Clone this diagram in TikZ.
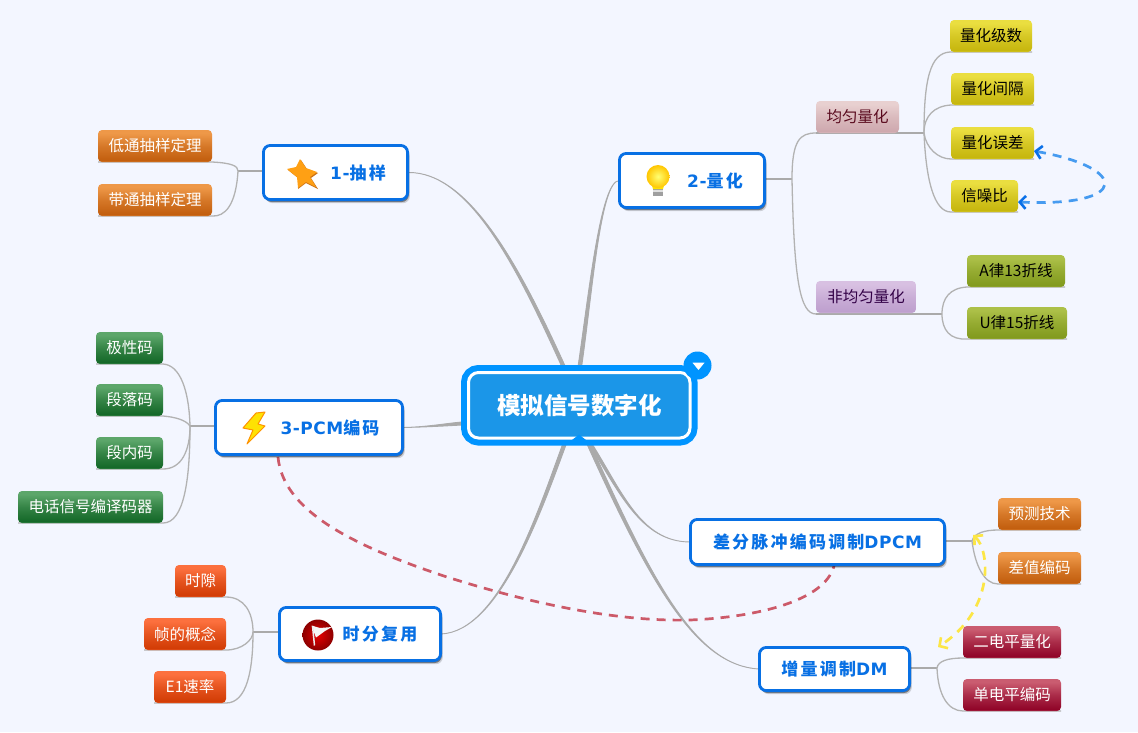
\documentclass[tikz,border=0pt]{standalone}
\usepackage{fontspec}
\setmainfont{Noto Sans CJK SC}
\newfontfamily\bluefont[LetterSpace=13]{Noto Sans CJK SC}
\newfontfamily\latfont[LetterSpace=3]{DejaVu Sans}
\usetikzlibrary{calc,backgrounds,shadows,arrows.meta}
\definecolor{bgcol}{RGB}{243,246,255}
\definecolor{ringblue}{RGB}{0,148,255}
\definecolor{rootfill}{RGB}{27,150,232}
\definecolor{mainblue}{RGB}{8,112,228}
\definecolor{branchcol}{RGB}{170,170,170}
\definecolor{linkcol}{RGB}{178,178,178}
\definecolor{relblue}{RGB}{70,155,240}
\definecolor{relbluetip}{RGB}{10,112,232}
\definecolor{relred}{RGB}{204,90,105}
\definecolor{relyel}{RGB}{252,230,70}
\definecolor{staro}{RGB}{255,160,20}
\definecolor{stard}{RGB}{205,115,20}
\newcommand\mkleafshade[3]{%
  \definecolor{#1T}{RGB}{#2}\definecolor{#1B}{RGB}{#3}%
  \colorlet{#1M}{#1T!45!#1B}\colorlet{#1E}{#1T!60!#1B}%
  \pgfdeclareverticalshading{#1}{100bp}{color(0bp)=(#1E);color(25bp)=(#1E);color(27.5bp)=(#1B);color(50bp)=(#1M);color(70bp)=(#1T);color(75bp)=(#1T);color(100bp)=(#1T)}}
\mkleafshade{yl}{234,222,64}{198,182,14}
\mkleafshade{pk}{232,208,208}{206,168,174}
\mkleafshade{pu}{216,192,226}{190,160,206}
\mkleafshade{ol}{172,192,72}{130,154,30}
\mkleafshade{og}{238,152,72}{194,94,14}
\mkleafshade{gn}{92,166,106}{20,104,40}
\mkleafshade{ro}{252,112,62}{210,60,5}
\mkleafshade{dr}{202,92,112}{144,4,40}
\tikzset{
  leafbox/.style={shade,shading=#1,rounded corners=4pt,inner sep=0pt,outer sep=0pt,font=\fontsize{15.5}{18}\selectfont},
  mainbox/.style={draw=mainblue,line width=2.8pt,fill=white,rounded corners=7pt,inner sep=0pt,outer sep=0pt,
    text=mainblue,font=\bluefont\bfseries\fontsize{17}{20}\selectfont,
    drop shadow={shadow xshift=2.2pt,shadow yshift=-3.6pt,fill=black,opacity=0.16},
    drop shadow={shadow xshift=1.2pt,shadow yshift=-2.4pt,fill=black,opacity=0.42}},
  rootbox/.style={preaction={draw=ringblue,line width=15pt},draw=white,line width=3pt,fill=rootfill,
    rounded corners=10pt,inner sep=0pt,outer sep=0pt,text=white,font=\bfseries\fontsize{23.5}{28}\selectfont},
  branch/.style={draw=branchcol,fill=branchcol,line width=0.9pt,line join=round},
  sublink/.style={draw=linkcol,line width=1.3pt},
  stem/.style={draw=branchcol,line width=2pt},
  reldash/.style={dash pattern=on 9pt off 7pt,line width=2.7pt},
  yeltip/.tip={Straight Barb[color=relyel,length=6pt,width=13pt,line width=2.6pt]},
  bluetip/.tip={Straight Barb[color=relbluetip,length=6pt,width=13pt,line width=2.6pt]},
}
\newcommand\boxnode[7]{\node[#1,minimum width={(#5-#3)*1pt},minimum height={(#6-#4)*1pt}] (#2) at ({(#3+#5)/2},{(#4+#6)/2}) {\raisebox{-1pt}{#7}};}
\newcommand\mainnode[6]{\node[mainbox,minimum width={(#4-#2-2.8)*1pt},minimum height={(#5-#3-2.8)*1pt}] (#1) at ({(#2+#4)/2},{(#3+#5)/2}) {\raisebox{-1pt}{#6}};}
\newcommand\brch[5]{\path[branch] (#1) .. controls (#2) and ($(#3)-(#5)$) .. ($(#4)-(#5)$) -- ($(#4)+(#5)$) .. controls ($(#3)+(#5)$) and (#2) .. (#1) -- cycle;}
\begin{document}
\begin{tikzpicture}[x=1pt,y=-1pt]
\useasboundingbox (0,0) rectangle (1138,732);
% nodes
\node[rootbox,minimum width=221.5pt,minimum height=65.5pt] (root) at (579.25,405.25) {模拟信号数字化};
\fill[ringblue] (572,440) -- (579,434.5) -- (586,440) -- cycle;
\fill[ringblue] (697.5,365.5) circle (14);
\fill[white] (692.5,362.7) -- (704.5,362.7) -- (698.5,370) -- cycle;
\mainnode{n1}{262}{144}{409}{201}{\hspace*{45pt}{\latfont 1-}抽样}
\mainnode{n2}{618}{152}{766}{209}{\hspace*{46pt}{\latfont 2-}量化}
\mainnode{n3}{214}{399}{404}{456}{\hspace*{42pt}{\latfont 3-PCM}编码}
\mainnode{n4}{278}{606}{442}{662}{\hspace*{40pt}时分复用}
\mainnode{n5}{689}{518}{946}{566}{差分脉冲编码调制{\latfont DPCM}}
\mainnode{n6}{758}{646}{911}{692}{增量调制{\latfont DM}}
% leaves
\boxnode{leafbox=og,text=white}{a1}{98}{130}{212}{162}{低通抽样定理}
\boxnode{leafbox=og,text=white}{a2}{98}{184}{212}{216}{带通抽样定理}
\boxnode{leafbox=pk,text={rgb,255:red,90;green,10;blue,30}}{b1}{816}{101}{899}{133}{均匀量化}
\boxnode{leafbox=pu,text={rgb,255:red,50;green,0;blue,70}}{b2}{816}{281}{916}{313}{非均匀量化}
\boxnode{leafbox=yl,text=black}{q1}{950}{20}{1032}{52}{量化级数}
\boxnode{leafbox=yl,text=black}{q2}{951}{73}{1034}{105}{量化间隔}
\boxnode{leafbox=yl,text=black}{q3}{951}{127}{1034}{159}{量化误差}
\boxnode{leafbox=yl,text=black}{q4}{951}{180}{1018}{212}{信噪比}
\boxnode{leafbox=ol,text=black}{r1}{967}{255}{1065}{287}{A律13折线}
\boxnode{leafbox=ol,text=black}{r2}{967}{307}{1067}{339}{U律15折线}
\boxnode{leafbox=gn,text=white}{c1}{96}{332}{163}{364}{极性码}
\boxnode{leafbox=gn,text=white}{c2}{96}{384}{163}{416}{段落码}
\boxnode{leafbox=gn,text=white}{c3}{96}{437}{163}{469}{段内码}
\boxnode{leafbox=gn,text=white}{c4}{18}{491}{163}{523}{电话信号编译码器}
\boxnode{leafbox=ro,text=white}{d1}{175}{565}{226}{597}{时隙}
\boxnode{leafbox=ro,text=white}{d2}{144}{618}{226}{650}{帧的概念}
\boxnode{leafbox=ro,text=white}{d3}{154}{671}{226}{703}{E1速率}
\boxnode{leafbox=og,text=white}{e1}{998}{498}{1081}{530}{预测技术}
\boxnode{leafbox=og,text=white}{e2}{998}{552}{1081}{584}{差值编码}
\boxnode{leafbox=dr,text=white}{f1}{963}{626}{1061}{658}{二电平量化}
\boxnode{leafbox=dr,text=white}{f2}{963}{679}{1061}{711}{单电平编码}
% icons
\fill[stard] (301,160) -- (307,169) -- (318,173) -- (311,178) -- (318,189) -- (306,183) -- (298,189) -- (298,178) -- (288,170) -- (297,168) -- cycle;
\fill[staro] (300,159) -- (306,168) -- (317,172) -- (310,177) -- (316,187) -- (306,182) -- (298,188) -- (297,177) -- (287,169) -- (296,167) -- cycle;
\fill[gray!75] (653,188) rectangle (663,196);
\fill[gray!25] (653,190) rectangle (663,192);
\fill[yellow!85!orange] (651,182) -- (665,182) -- (663,189) -- (653,189) -- cycle;
\shade[inner color=yellow!55!white,outer color=orange!45!yellow] (658,176.5) circle (11.5);
\path[fill=yellow!85!orange,draw=orange!85!yellow,line width=1pt,line join=round]
  (256,413) -- (265,412) -- (258,424) -- (265,426) -- (247,444) -- (253,430) -- (243,428) -- cycle;
\shade[inner color=red!90!black,outer color=red!55!black] (318,635) circle (15.5);
\fill[white!92!gray] (311.5,625.5) -- (320,628) -- (332,627) -- (325,631) -- (316,637.5) -- cycle;
\draw[white!85!gray,line width=1.5pt] (312.5,626) -- (314.5,645.5);
% connectors behind the nodes
\begin{scope}[on background layer]
\fill[bgcol] (0,0) rectangle (1138,732);
\coordinate (r-a) at (566,372); \coordinate (r-b) at (579,372);
\coordinate (r-c) at (470,423); \coordinate (r-d) at (566,440);
\coordinate (r-e) at (588,440); \coordinate (r-f) at (586,438);
\brch{n1.east}{470,171}{520,270}{r-a}{1.8,0}
\brch{n2.west}{600,180}{590,300}{r-b}{1.8,0}
\brch{n3.east}{430,427}{450,424}{r-c}{0,1.6}
\brch{n4.east}{500,632}{540,510}{r-d}{1.8,0}
\brch{n5.west}{640,542}{620,490}{r-e}{1.6,0}
\brch{n6.west}{695,666}{650,580}{r-f}{1.8,0}
\coordinate (j1) at (238,171);
\coordinate (j2) at (792,179);
\coordinate (j21) at (924,133);
\coordinate (j22) at (942,314);
\coordinate (j3) at (190,426);
\coordinate (j4) at (253,632);
\coordinate (j5) at (972,541);
\coordinate (j6) at (937,668);
\draw[stem] (n1.west |- j1) -- (j1);
\draw[sublink] (j1) .. controls (238,166) and (232,163) .. (a1.south east) -- (a1.south west);
\draw[sublink] (j1) .. controls (236,205) and (225,217) .. (a2.south east) -- (a2.south west);
\draw[stem] (n2.east |- j2) -- (j2);
\draw[sublink] (j2) .. controls (792,140) and (800,133) .. (b1.south west);
\draw[stem] (b1.south west) -- (b1.south east) -- (j21);
\draw[sublink] (j2) .. controls (794,280) and (800,314) .. (b2.south west |- j22);
\draw[stem] (b2.south west |- j22) -- (j22);
\draw[sublink] (j21) .. controls (924,80) and (930,53) .. (q1.south west) -- (q1.south east);
\draw[sublink] (j21) .. controls (924,116) and (934,106) .. (q2.south west) -- (q2.south east);
\draw[sublink] (j21) .. controls (926,148) and (938,159) .. (q3.south west) -- (q3.south east);
\draw[sublink] (j21) .. controls (926,180) and (934,212) .. (q4.south west) -- (q4.south east);
\draw[sublink] (j22) .. controls (942,298) and (950,288) .. (r1.south west) -- (r1.south east);
\draw[sublink] (j22) .. controls (942,330) and (950,340) .. (r2.south west) -- (r2.south east);
\draw[stem] (n3.west |- j3) -- (j3);
\draw[sublink] (j3) .. controls (189,390) and (180,365) .. (c1.south east) -- (c1.south west);
\draw[sublink] (j3) .. controls (186,420) and (175,417) .. (c2.south east) -- (c2.south west);
\draw[sublink] (j3) .. controls (190,450) and (182,469) .. (c3.south east) -- (c3.south west);
\draw[sublink] (j3) .. controls (190,480) and (184,523) .. (c4.south east) -- (c4.south west);
\draw[stem] (n4.west |- j4) -- (j4);
\draw[sublink] (j4) .. controls (253,612) and (244,597) .. (d1.south east) -- (d1.south west);
\draw[sublink] (j4) .. controls (253,640) and (242,650) .. (d2.south east) -- (d2.south west);
\draw[sublink] (j4) .. controls (253,670) and (247,703) .. (d3.south east) -- (d3.south west);
\draw[stem] (n5.east |- j5) -- (j5);
\draw[sublink] (j5) .. controls (974,533) and (985,530) .. (e1.south west) -- (e1.south east);
\draw[sublink] (j5) .. controls (975,565) and (984,584) .. (e2.south west) -- (e2.south east);
\draw[stem] (n6.east |- j6) -- (j6);
\draw[sublink] (j6) .. controls (938,661) and (948,658) .. (f1.south west) -- (f1.south east);
\draw[sublink] (j6) .. controls (938,695) and (948,711) .. (f2.south west) -- (f2.south east);
% relations
\coordinate (ya) at (973,535);
\coordinate (yb) at (938,647);
\draw[reldash,relyel,yeltip-yeltip] (ya) .. controls (990,550) and (995,610) .. (yb);
\coordinate (ra) at (278,457);
\coordinate (rb) at (447,577);
\coordinate (rc) at (690,620);
\coordinate (rd) at (834,566);
\draw[reldash,relred] (ra) .. controls (283,510) and (350,545) .. (rb) .. controls (520,600) and (610,622) .. (rc) .. controls (760,617) and (825,600) .. (rd);
\end{scope}
\draw[reldash,relblue,bluetip-bluetip] ($(q3.south east)+(0,-8)$) .. controls (1130,168) and (1130,207) .. ($(q4.south east)+(0,-10)$);
\end{tikzpicture}
\end{document}
